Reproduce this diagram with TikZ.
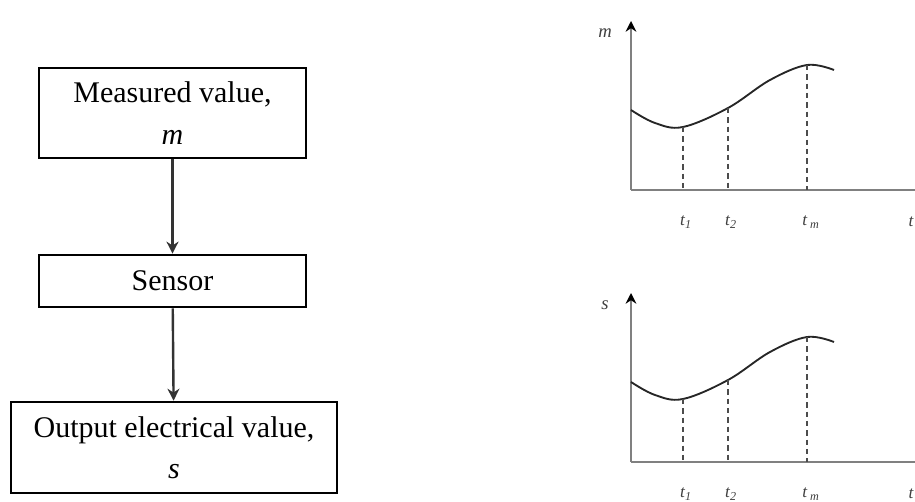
\documentclass[tikz,border=0pt]{standalone}
\usepackage{fontspec}
\setmainfont{Liberation Serif}
\usetikzlibrary{arrows.meta}

\tikzset{
	block/.style={draw, line width=2pt, minimum width=200.25pt, align=center,
		font=\fontsize{22.5}{31}\selectfont},
	axis/.style={draw=gray, line width=1.6pt},
	lbl/.style={font=\fontsize{13}{15}\selectfont\itshape, text=black!75},
	guide/.style={line width=1.3pt, black!70, dash pattern=on 4pt off 3pt},
}

\begin{document}
\begin{tikzpicture}[>={Stealth[length=9pt,width=9pt]}, x=0.75pt, y=-0.75pt]
	\useasboundingbox (0,0) rectangle (915,502);
	% block diagram
	\node[block, minimum height=67.5pt] (meas) at (172.5,113) {Measured value,\\ \textit{m}};
	\node[block, minimum height=39pt] (sens) at (172.5,281) {Sensor};
	\node[block, minimum width=244.5pt, minimum height=68.25pt] (outp) at (174,447.5) {Output electrical value,\\ \textit{s}};
	\draw[->, line width=1.8pt, black!80] (meas) -- (sens);
	\draw[->, line width=1.8pt, black!80] (sens) -- (outp);
	% the two time graphs
	\foreach \dy/\v in {0/m, 272/s} {
		\begin{scope}[yshift=-0.75*\dy pt]
			\coordinate (o\v) at (631,190);
			\coordinate (ytop\v) at (631,21);
			\coordinate (xend\v) at (915,190);
			\draw[axis, -{Stealth[length=8pt,width=8pt,black]}] (o\v) -- (ytop\v);
			\draw[axis] (o\v) -- (xend\v);
			\node[lbl, font=\fontsize{14}{16}\selectfont\itshape] (y\v) at (605,33) {\v};
			\draw[line width=1.4pt, black!85] plot[smooth, tension=0.6] coordinates
				{(631,110) (655,123) (683,127) (728,108) (770,80) (807,65) (834,70)};
			\draw[guide] (683,127) -- (683,190);
			\draw[guide] (728,108) -- (728,190);
			\draw[guide] (807,65) -- (807,190);
			\node[lbl] (ta\v) at (686,222) {t\textsubscript{1}};
			\node[lbl] (tb\v) at (731,222) {t\textsubscript{2}};
			\node[lbl] (tm\v) at (811,222) {t\,\textsubscript{m}};
			\node[lbl] (t\v) at (911,222) {t};
		\end{scope}
	}
\end{tikzpicture}
\end{document}
